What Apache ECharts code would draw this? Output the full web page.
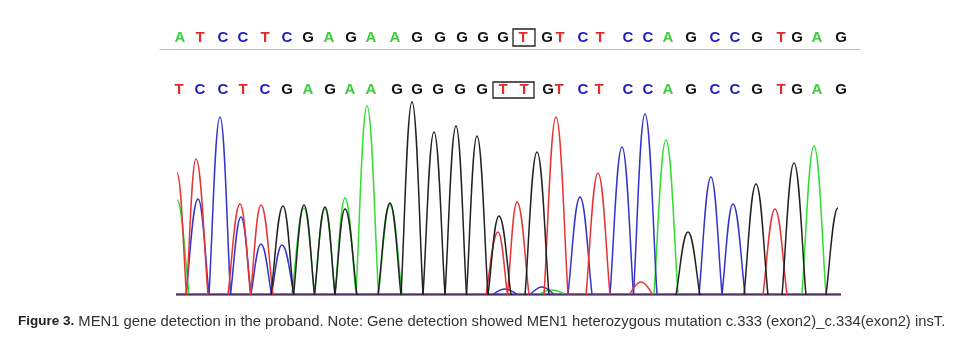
<!DOCTYPE html>
<html><head><meta charset="utf-8">
<script src="https://cdn.jsdelivr.net/npm/echarts@6/dist/echarts.min.js"></script>
<style>html,body{margin:0;padding:0;background:#fff}#c{width:962px;height:352px}</style>
</head><body><div id="c"></div><script>
// Reference sequence (top row) and its scan positions
const refBases = ['A','T','C','C','T','C','G','A','G','A','A','G','G','G','G','G','T','G','T','C','T','C','C','A','G','C','C','G','T','G','A','G'];
const refPos   = [20,40,63,83,105,127,148,169,191,211,235,257,280,302,323,343,363,387,400,423,440,468,488,508,531,555,575,597,621,637,657,681];
// Proband sequence (second row)
const sampleBases = ['T','C','C','T','C','G','A','G','A','A','G','G','G','G','G','T','T','G','T','C','T','C','C','A','G','C','C','G','T','G','A','G'];
const samplePos   = [19,40,63,83,105,127,148,170,190,211,237,257,278,300,322,343,364,388,399,423,439,468,488,508,531,555,575,597,621,637,657,681];
// Highlighted (boxed) ranges, scan units
const refBox = [353, 375];
const sampleBox = [333, 374];
// Chromatogram peaks per channel: [scan, signal]
const peaksA = [[17,95],[144,87],[165,86],[185,97],[207,189],[230,90],[392,5],[506,155],[654,149]];
const peaksC = [[38,96],[60,178],[81,78],[101,51],[122,50],[345,6],[382,8],[420,98],[462,148],[485,181],[551,118],[573,91]];
const peaksG = [[123,89],[144,90],[165,88],[185,86],[230,92],[252,193],[274,163],[296,169],[317,159],[339,79],[377,143],[528,63],[596,111],[634,132],[678,87]];
const peaksT = [[17,122],[36,136],[80,91],[101,90],[338,63],[357,93],[396,178],[438,122],[481,13],[615,86]];
// Baseline level of each channel
const baseA = 1.5, baseC = 0.8, baseT = 0.4, baseG = 0;
const traceStart = 16, traceEnd = 681;
const caption = 'MEN1 gene detection in the proband. Note: Gene detection showed MEN1 heterozygous mutation c.333 (exon2)_c.334(exon2) insT.';

const HW = 12; // peak half width at base (style)
const baseColors = {A:'#3ccc3c', C:'#1e1ec0', G:'#111111', T:'#e42a2a'};
const traceColors = {A:'#33dd33', C:'#3434cc', G:'#222222', T:'#e63434'};
const FONT = 'Liberation Sans, Arial, sans-serif';

// each item: [scan, signal, leftFoot, rightFoot]
function peakItems(peaks){
  return peaks.map(([x,h],i)=>{
    const prev = peaks[i-1], next = peaks[i+1];
    const lv = prev ? Math.max(x-HW,(prev[0]+x)/2) : x-HW;
    const rv = next ? Math.min(x+HW,(x+next[0])/2) : x+HW;
    return [x,h,lv,rv];
  });
}

function peakSeries(peaks, key, base){
  const color = traceColors[key];
  return {type:'custom', xAxisIndex:0, yAxisIndex:0, data:peakItems(peaks), z: key==='G'?3:2, animation:false,
    renderItem:(params, api)=>{
      const P = api.coord([api.value(0), api.value(1)]);
      const lv = api.value(2), rv = api.value(3);
      const L = api.coord([lv,base]), R = api.coord([rv,base]);
      const st = {stroke:color, lineWidth:1.5, fill:null};
      const ch = [];
      if (lv >= traceStart) ch.push({type:'bezierCurve', shape:{x1:L[0],y1:L[1], cpx1:L[0]+0.3*(P[0]-L[0]), cpy1:L[1]+0.3*(P[1]-L[1]), cpx2:P[0]-0.45*(P[0]-L[0]), cpy2:P[1], x2:P[0], y2:P[1]}, style:st});
      if (rv <= traceEnd) ch.push({type:'bezierCurve', shape:{x1:P[0],y1:P[1], cpx1:P[0]+0.45*(R[0]-P[0]), cpy1:P[1], cpx2:R[0]-0.3*(R[0]-P[0]), cpy2:R[1]-0.3*(R[1]-P[1]), x2:R[0], y2:R[1]}, style:st});
      return {type:'group', children:ch};
    }};
}
function baseSeries(key, base){
  return {type:'line', xAxisIndex:0, yAxisIndex:0, data:[[traceStart,base],[traceEnd,base]], symbol:'none',
    lineStyle:{color:traceColors[key], width:1.2, opacity:0.85}, z:1, animation:false};
}
function letterSeries(bases, pos, gi, box){
  return {type:'custom', xAxisIndex:gi, yAxisIndex:gi, animation:false,
    data: pos.map(p=>[p,0.5]),
    renderItem:(params, api)=>{
      const c = api.coord([api.value(0), api.value(1)]);
      const b = bases[params.dataIndex];
      return {type:'text', x:c[0], y:c[1], style:{text:b, fill:baseColors[b], fontFamily:FONT, fontWeight:'bold', fontSize:15, align:'center', verticalAlign:'middle'}};
    },
    markArea:{silent:true, itemStyle:{color:'rgba(0,0,0,0)', borderColor:'#222', borderWidth:1.3},
      data:[[{xAxis:box[0], yAxis:0},{xAxis:box[1], yAxis:1}]]}};
}

const chart = echarts.init(document.getElementById('c'), null, {renderer:'canvas'});
chart.setOption({
  backgroundColor:'#fff',
  animation:false,
  grid:[
    {left:160, width:700, top:97, height:200},
    {left:160, width:700, top:29, height:17},
    {left:160, width:700, top:82, height:16}
  ],
  xAxis:[
    {gridIndex:0, type:'value', min:0, max:700, show:false},
    {gridIndex:1, type:'value', min:0, max:700, axisLine:{show:true, onZero:false, lineStyle:{color:'#b4bce8', width:1.2}}, offset:3, axisTick:{show:false}, axisLabel:{show:false}, splitLine:{show:false}},
    {gridIndex:2, type:'value', min:0, max:700, show:false}
  ],
  yAxis:[
    {gridIndex:0, type:'value', min:-2, max:198, show:false},
    {gridIndex:1, type:'value', min:0, max:1, show:false},
    {gridIndex:2, type:'value', min:0, max:1, show:false}
  ],
  series:[
    baseSeries('A', baseA), baseSeries('T', baseT), baseSeries('C', baseC), baseSeries('G', baseG),
    peakSeries(peaksA,'A', baseA), peakSeries(peaksC,'C', baseC), peakSeries(peaksT,'T', baseT), peakSeries(peaksG,'G', baseG),
    letterSeries(refBases, refPos, 1, refBox),
    letterSeries(sampleBases, samplePos, 2, sampleBox)
  ],
  graphic:[{type:'text', left:18, top:314, style:{
    text:'{b|Figure 3.} ' + caption,
    rich:{b:{fontWeight:'bold', fontSize:13.5, fontFamily:FONT, fill:'#222'}},
    fontSize:14.8, fontFamily:FONT, fill:'#333'}}]
});
</script></body></html>
